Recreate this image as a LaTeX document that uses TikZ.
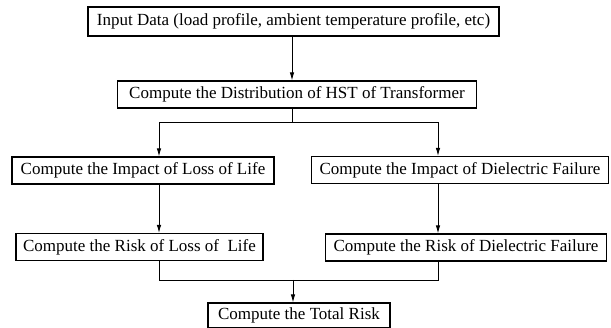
\documentclass[tikz,border=0pt]{standalone}
\usepackage{fontspec}
\setmainfont{Liberation Serif}
\usetikzlibrary{arrows.meta}
\begin{document}
\begin{tikzpicture}[x=1pt,y=-1pt,
  box/.style={draw, line width=1.1pt, inner sep=0pt, font=\fontsize{17}{20}\selectfont, anchor=center},
  arr/.style={line width=0.9pt, -{Latex[length=8pt,width=4.5pt]}},
  ln/.style={line width=0.9pt}]
\useasboundingbox (0,0) rectangle (611,328);
\node[box, minimum width=411pt, minimum height=29pt] (in) at (293.5,21.5) {Input Data (load profile, ambient temperature profile, etc)};
\node[box, minimum width=359pt, minimum height=27pt] (hst) at (297,94.5) {Compute the Distribution of HST of Transformer};
\node[box, minimum width=262pt, minimum height=27pt] (impL) at (143,170.5) {Compute the Impact of Loss of Life};
\node[box, minimum width=297pt, minimum height=27pt] (impR) at (460,170) {Compute the Impact of Dielectric Failure};
\node[box, minimum width=247pt, minimum height=27pt] (riskL) at (139.5,247) {Compute the Risk of Loss of\ \ Life};
\node[box, minimum width=281pt, minimum height=27pt] (riskR) at (466,247.5) {Compute the Risk of Dielectric Failure};
\node[box, minimum width=182pt, minimum height=25pt] (tot) at (299,315.5) {Compute the Total Risk};
\coordinate (c) at (292,0);
\coordinate (sp) at (292,122);
\coordinate (spl) at (159,122);
\coordinate (spr) at (438,122);
\coordinate (jn) at (293,280);
\coordinate (jl) at (159,280);
\coordinate (jr) at (438,280);
\draw[arr] (in.south -| c) -- (hst.north -| c);
\draw[ln] (hst.south -| c) -- (sp);
\draw[arr] (sp) -- (spl) -- (spl |- impL.north);
\draw[arr] (sp) -- (spr) -- (spr |- impR.north);
\draw[arr] (spl |- impL.south) -- (spl |- riskL.north);
\draw[arr] (spr |- impR.south) -- (spr |- riskR.north);
\draw[ln] (jl |- riskL.south) -- (jl) -- (jr) -- (jr |- riskR.south);
\draw[arr] (jn) -- (jn |- tot.north);
\end{tikzpicture}
\end{document}
